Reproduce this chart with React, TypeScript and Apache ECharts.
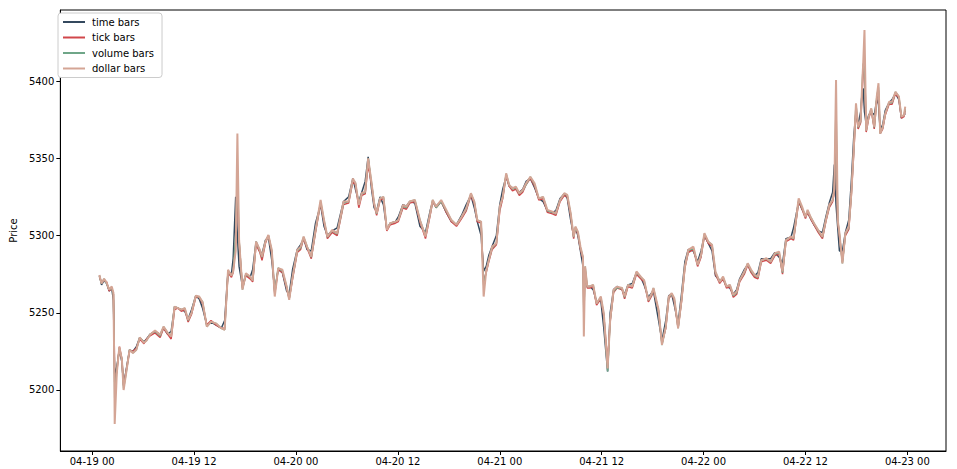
import React, { useEffect, useRef } from "react";
import * as echarts from "echarts";

// hours since 04-19 00:00
const hours = [
  0.85, 1.1, 1.4, 1.7, 2.0, 2.3, 2.5, 2.6, 2.65, 2.9,
  3.2, 3.5, 3.7, 4.0, 4.4, 4.8, 5.2, 5.6, 6.1, 6.4,
  6.8, 7.4, 8.0, 8.4, 8.9, 9.3, 9.7, 10.1, 10.5, 10.9,
  11.3, 11.7, 12.2, 12.6, 13.0, 13.5, 14.0, 14.6, 15.2, 15.6,
  16.0, 16.4, 16.6, 16.9, 17.1, 17.3, 17.7, 18.1, 18.6, 18.9,
  19.3, 19.75, 20.0, 20.4, 20.75, 21.15, 21.5, 21.9, 22.4, 22.9,
  23.2, 23.6, 24.15, 24.55, 24.9, 25.3, 25.8, 26.3, 26.9, 27.3,
  27.7, 28.25, 28.85, 29.6, 30.2, 30.7, 31.0, 31.4, 31.75, 32.15,
  32.5, 32.9, 33.2, 33.5, 33.9, 34.3, 34.7, 35.1, 35.7, 36.05,
  36.6, 37.0, 37.4, 38.0, 38.6, 39.25, 39.8, 40.1, 40.5, 41.1,
  41.7, 42.3, 42.9, 43.5, 44.05, 44.6, 45.0, 45.35, 45.8, 46.1,
  46.4, 46.7, 47.1, 47.6, 48.0, 48.35, 48.75, 49.1, 49.5, 49.9,
  50.3, 50.7, 51.1, 51.6, 52.1, 52.6, 53.1, 53.6, 54.2, 54.6,
  55.1, 55.6, 55.95, 56.35, 56.7, 56.9, 57.2, 57.5, 57.8, 57.9,
  58.05, 58.3, 58.6, 59.0, 59.4, 59.9, 60.25, 60.7, 61.0, 61.4,
  61.8, 62.4, 62.7, 63.1, 63.6, 64.1, 64.6, 65.0, 65.5, 65.9,
  66.1, 66.7, 67.1, 67.55, 67.9, 68.25, 68.55, 69.0, 69.4, 69.8,
  70.2, 70.8, 71.3, 71.7, 72.1, 72.55, 73.0, 73.4, 73.9, 74.3,
  74.7, 75.1, 75.5, 75.9, 76.25, 76.8, 77.2, 77.6, 78.0, 78.4,
  78.8, 79.4, 79.9, 80.4, 80.9, 81.3, 81.7, 82.3, 82.6, 83.2,
  83.6, 84.0, 84.25, 84.6, 85.0, 85.5, 86.0, 86.4, 86.8, 87.2,
  87.4, 87.6, 87.8, 88.0, 88.35, 88.7, 89.1, 89.4, 89.7, 89.95,
  90.2, 90.5, 90.7, 90.8, 90.95, 91.15, 91.45, 91.75, 92.1, 92.4,
  92.6, 92.8, 93.1, 93.4, 93.85, 94.2, 94.6, 95.0, 95.3, 95.6,
  95.75,
];

const timeBars = [
  5274, 5268, 5271, 5269, 5264, 5266, 5258, 5222, 5210, 5215,
  5226, 5218, 5203, 5213, 5226, 5225, 5228, 5234, 5231, 5233,
  5236, 5238, 5236, 5240, 5236, 5238, 5254, 5253, 5252, 5251,
  5246, 5252, 5261, 5259, 5253, 5242, 5244, 5242, 5240, 5245,
  5277, 5275, 5285, 5325, 5300, 5280, 5267, 5275, 5273, 5278,
  5296, 5290, 5288, 5297, 5299, 5284, 5264, 5278, 5276, 5264,
  5262, 5278, 5291, 5294, 5298, 5291, 5290, 5308, 5320, 5306,
  5300, 5303, 5305, 5322, 5325, 5337, 5330, 5322, 5328, 5335,
  5351, 5330, 5318, 5316, 5325, 5320, 5304, 5308, 5309, 5312,
  5320, 5319, 5322, 5321, 5306, 5302, 5316, 5322, 5319, 5322,
  5315, 5309, 5307, 5313, 5320, 5326, 5318, 5309, 5300, 5277,
  5280, 5287, 5293, 5300, 5320, 5330, 5338, 5332, 5331, 5330,
  5328, 5330, 5335, 5337, 5331, 5324, 5322, 5316, 5315, 5316,
  5324, 5327, 5324, 5310, 5300, 5305, 5300, 5290, 5280, 5267,
  5272, 5267, 5267, 5265, 5257, 5258, 5240, 5212, 5250, 5265,
  5267, 5265, 5262, 5268, 5269, 5276, 5273, 5268, 5260, 5263,
  5264, 5245, 5232, 5245, 5261, 5262, 5255, 5243, 5262, 5283,
  5291, 5290, 5283, 5290, 5300, 5295, 5290, 5274, 5271, 5272,
  5267, 5266, 5262, 5265, 5272, 5278, 5281, 5277, 5274, 5276,
  5285, 5285, 5285, 5289, 5286, 5282, 5298, 5299, 5305, 5322,
  5317, 5313, 5315, 5311, 5307, 5303, 5302, 5312, 5321, 5328,
  5346, 5320, 5305, 5290, 5290, 5302, 5310, 5335, 5365, 5380,
  5372, 5380, 5395, 5395, 5380, 5372, 5378, 5380, 5378, 5388,
  5385, 5368, 5372, 5381, 5386, 5388, 5392, 5388, 5376, 5378,
  5379,
];

const tickBars = [
  5273, 5270, 5271, 5270, 5264, 5266, 5262, 5230, 5205, 5212,
  5228, 5220, 5203, 5212, 5225, 5225, 5227, 5233, 5230, 5233,
  5235, 5237, 5234, 5240, 5236, 5233, 5252, 5253, 5251, 5252,
  5244, 5249, 5260, 5260, 5256, 5242, 5245, 5242, 5240, 5240,
  5276, 5273, 5276, 5295, 5330, 5296, 5266, 5274, 5272, 5270,
  5294, 5289, 5284, 5295, 5300, 5289, 5262, 5278, 5276, 5266,
  5259, 5272, 5289, 5291, 5298, 5292, 5285, 5302, 5321, 5309,
  5298, 5302, 5300, 5320, 5321, 5335, 5333, 5318, 5326, 5327,
  5346, 5333, 5320, 5313, 5323, 5324, 5303, 5307, 5308, 5309,
  5318, 5317, 5321, 5322, 5309, 5298, 5313, 5322, 5318, 5322,
  5315, 5309, 5306, 5311, 5316, 5326, 5321, 5309, 5308, 5270,
  5276, 5283, 5291, 5294, 5316, 5324, 5339, 5332, 5329, 5330,
  5326, 5328, 5333, 5337, 5332, 5323, 5324, 5315, 5314, 5313,
  5322, 5326, 5325, 5313, 5298, 5305, 5301, 5291, 5285, 5250,
  5278, 5266, 5266, 5267, 5255, 5259, 5248, 5218, 5244, 5263,
  5266, 5265, 5259, 5267, 5266, 5275, 5272, 5270, 5257, 5261,
  5265, 5251, 5230, 5240, 5259, 5262, 5258, 5240, 5257, 5279,
  5289, 5291, 5280, 5286, 5300, 5295, 5293, 5275, 5269, 5272,
  5266, 5267, 5260, 5262, 5270, 5275, 5281, 5276, 5273, 5272,
  5283, 5284, 5282, 5287, 5288, 5275, 5296, 5298, 5297, 5322,
  5317, 5311, 5315, 5311, 5307, 5302, 5298, 5309, 5318, 5322,
  5328, 5370, 5309, 5300, 5283, 5300, 5304, 5326, 5355, 5382,
  5369, 5373, 5395, 5405, 5415, 5367, 5376, 5381, 5369, 5388,
  5394, 5366, 5369, 5378, 5385, 5385, 5392, 5389, 5376, 5377,
  5381,
];

const volumeBars = [
  5274, 5269, 5272, 5269, 5265, 5266, 5262, 5225, 5195, 5213,
  5227, 5220, 5201, 5211, 5226, 5224, 5226, 5234, 5231, 5232,
  5236, 5238, 5235, 5241, 5237, 5235, 5254, 5253, 5252, 5253,
  5245, 5250, 5261, 5260, 5257, 5241, 5244, 5243, 5240, 5239,
  5277, 5274, 5277, 5300, 5340, 5297, 5265, 5275, 5273, 5271,
  5296, 5290, 5286, 5296, 5300, 5290, 5263, 5279, 5277, 5267,
  5259, 5273, 5290, 5292, 5299, 5293, 5286, 5303, 5322, 5310,
  5299, 5303, 5301, 5321, 5322, 5336, 5334, 5320, 5327, 5328,
  5350, 5334, 5321, 5314, 5324, 5325, 5304, 5308, 5309, 5310,
  5319, 5318, 5322, 5323, 5310, 5300, 5314, 5323, 5318, 5322,
  5316, 5310, 5307, 5312, 5317, 5327, 5322, 5310, 5309, 5268,
  5277, 5284, 5292, 5295, 5318, 5325, 5340, 5333, 5330, 5331,
  5327, 5329, 5333, 5338, 5333, 5324, 5325, 5316, 5315, 5314,
  5323, 5327, 5326, 5314, 5299, 5305, 5302, 5292, 5286, 5245,
  5280, 5267, 5267, 5268, 5256, 5260, 5249, 5212, 5245, 5264,
  5266, 5266, 5260, 5268, 5267, 5276, 5273, 5271, 5258, 5262,
  5266, 5251, 5229, 5241, 5260, 5262, 5259, 5240, 5258, 5280,
  5290, 5292, 5281, 5287, 5301, 5296, 5294, 5276, 5270, 5273,
  5267, 5268, 5261, 5263, 5271, 5276, 5282, 5277, 5274, 5273,
  5284, 5285, 5283, 5288, 5289, 5276, 5297, 5299, 5298, 5323,
  5318, 5312, 5316, 5312, 5308, 5303, 5299, 5310, 5319, 5323,
  5330, 5385, 5310, 5301, 5282, 5301, 5305, 5327, 5357, 5385,
  5370, 5374, 5400, 5411, 5412, 5368, 5377, 5382, 5370, 5390,
  5396, 5366, 5370, 5379, 5386, 5386, 5393, 5390, 5377, 5378,
  5382,
];

const dollarBars = [
  5274.5, 5269, 5272, 5269.5, 5265, 5267, 5263, 5215, 5178, 5211,
  5228, 5219.5, 5200, 5211, 5226, 5224, 5226, 5234, 5230.5, 5232,
  5235.7, 5238.5, 5235.7, 5241, 5237, 5234.6, 5254, 5253, 5252, 5253,
  5245.5, 5250, 5261, 5260.5, 5257, 5241, 5244.3, 5243, 5240, 5239,
  5277.8, 5274, 5276.7, 5290, 5366, 5297, 5265, 5275.6, 5273.4, 5271,
  5296, 5290.7, 5286.4, 5296, 5300.4, 5290.7, 5260.5, 5278.8, 5277.8, 5267,
  5258.3, 5273.4, 5290.7, 5292.8, 5299.3, 5292.8, 5286.4, 5303.6, 5323, 5310,
  5299.3, 5303.6, 5301.5, 5322, 5322, 5337, 5334, 5319.8, 5327.4, 5328.4,
  5350, 5334, 5321, 5314.4, 5324, 5325, 5303.6, 5308, 5309, 5310,
  5319.8, 5318.7, 5322, 5323, 5310, 5299.3, 5314.4, 5323, 5318.7, 5323,
  5316.6, 5310, 5306.9, 5312, 5317.7, 5327.4, 5322, 5310, 5309, 5260.5,
  5277, 5284, 5292.8, 5295, 5318.7, 5325, 5340.3, 5332.7, 5330.6, 5331.6,
  5327.4, 5329.5, 5333.8, 5338, 5333.8, 5324, 5325, 5316.6, 5315.5, 5314.4,
  5323, 5327.4, 5326.3, 5314.4, 5299.3, 5305.8, 5302.5, 5292.8, 5286, 5234.6,
  5280, 5267, 5267, 5268, 5256, 5260.5, 5249.7, 5214, 5245.4, 5264.8,
  5266.9, 5266, 5260.5, 5268, 5267, 5276.7, 5273.4, 5271, 5258.3, 5262.7,
  5266, 5251.9, 5229.2, 5241, 5260.5, 5262.7, 5259.4, 5240, 5258.3, 5280,
  5290.7, 5292.8, 5281, 5287.5, 5301.5, 5296, 5294, 5276.7, 5270, 5273.4,
  5267, 5268, 5261.6, 5263.7, 5271, 5276.7, 5282, 5277.8, 5274.5, 5273.4,
  5284, 5285.3, 5283, 5288.6, 5289.6, 5276.7, 5297, 5299.3, 5298.3, 5324,
  5318.7, 5312, 5316.6, 5312, 5308, 5303.6, 5299.3, 5310, 5319.8, 5323,
  5330, 5400.6, 5310, 5301.5, 5282, 5301.5, 5305.8, 5327.4, 5357.5, 5385.6,
  5370.4, 5374.8, 5400.6, 5411.5, 5433, 5368, 5377, 5382.3, 5370.4, 5390,
  5398.6, 5366, 5370.4, 5379, 5386.6, 5386.6, 5393, 5390, 5377, 5378,
  5383.4,
];

const xTickHours = [0, 12, 24, 36, 48, 60, 72, 84, 96];
const yTickValues = [5200, 5250, 5300, 5350, 5400];

const seriesNames = ["time bars", "tick bars", "volume bars", "dollar bars"];
const seriesColors = ["#34495e", "#d1474b", "#6fa688", "#d4a595"];

const fmtHour = (h: number) => {
  const day = 19 + Math.floor(h / 24);
  const hr = Math.round(h % 24);
  return `04-${String(day).padStart(2, "0")} ${String(hr).padStart(2, "0")}`;
};

export default function App() {
  const ref = useRef<HTMLDivElement>(null);
  useEffect(() => {
    if (!ref.current) return;
    const chart = echarts.init(ref.current, undefined, { renderer: "svg" });
    const all = [timeBars, tickBars, volumeBars, dollarBars];
    const font = "DejaVu Sans";
    chart.setOption({
      animation: false,
      backgroundColor: "#ffffff",
      textStyle: { fontFamily: font },
      grid: {
        left: 55,
        right: 11,
        top: 10,
        bottom: 18,
        show: true,
        borderColor: "#000",
        borderWidth: 1,
        backgroundColor: "#fff",
      },
      legend: {
        orient: "vertical",
        left: 58,
        top: 13,
        padding: [4, 8, 4, 5],
        itemWidth: 22,
        itemHeight: 2,
        itemGap: 5.5,
        icon: "rect",
        backgroundColor: "#fff",
        borderColor: "#cccccc",
        borderWidth: 1,
        borderRadius: 3,
        textStyle: { fontFamily: font, fontSize: 10, color: "#000", padding: [0, 0, 0, 2] },
        data: seriesNames,
      },
      xAxis: {
        type: "value",
        min: -3.75,
        max: 100.55,
        splitLine: { show: false },
        axisLine: { show: true, onZero: false, lineStyle: { color: "#000", width: 1 } },
        axisTick: {
          show: true,
          length: 4,
          lineStyle: { color: "#000" },
          customValues: xTickHours,
        },
        axisLabel: {
          color: "#000",
          fontSize: 10,
          fontFamily: font,
          margin: 5,
          customValues: xTickHours,
          formatter: (v: number) => fmtHour(v),
        },
      },
      yAxis: {
        type: "value",
        min: 5160.5,
        max: 5446,
        name: "Price",
        nameLocation: "middle",
        nameGap: 40,
        nameTextStyle: { color: "#000", fontSize: 10, fontFamily: font },
        splitLine: { show: false },
        axisLine: { show: true, onZero: false, lineStyle: { color: "#000", width: 1 } },
        axisTick: {
          show: true,
          length: 4,
          lineStyle: { color: "#000" },
          customValues: yTickValues,
        },
        axisLabel: {
          color: "#000",
          fontSize: 10,
          fontFamily: font,
          margin: 6,
          customValues: yTickValues,
          formatter: (v: number) => String(v),
        },
      },
      series: seriesNames.map((name, si) => ({
        name,
        type: "line",
        showSymbol: false,
        symbol: "none",
        color: seriesColors[si],
        lineStyle: { width: si === 3 ? 2 : 1.5, color: seriesColors[si] },
        data: hours.map((h, i) => [h, all[si][i]]),
        z: 2 + si,
      })),
    });
    return () => chart.dispose();
  }, []);
  return (
    <div
      ref={ref}
      style={{ position: "fixed", left: 0, top: 0, width: 957, height: 469, background: "#fff" }}
    />
  );
}
